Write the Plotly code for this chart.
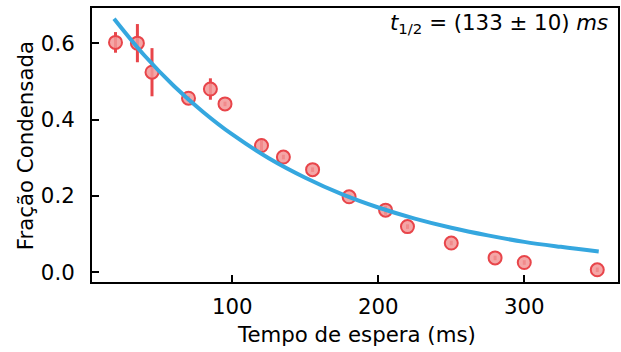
import plotly.graph_objects as go

# Data
tempo = [20, 35, 45, 70, 85, 95, 120, 135, 155, 180, 205, 220, 250, 280, 300, 350]
fracao = [0.602, 0.600, 0.524, 0.456, 0.480, 0.441, 0.332, 0.302, 0.269, 0.198,
          0.163, 0.120, 0.077, 0.038, 0.026, 0.007]
erro = [0.027, 0.050, 0.063, 0.006, 0.028, 0.006, 0.018, 0.006, 0.006, 0.006,
        0.012, 0.006, 0.006, 0.006, 0.006, 0.006]

# Fitted curve
ajuste_x = [19, 40, 60, 80, 100, 125, 150, 175, 200, 225, 250, 275, 300, 325, 351]
ajuste_y = [0.664, 0.567, 0.488, 0.420, 0.361, 0.299, 0.248, 0.205, 0.170, 0.141,
            0.117, 0.097, 0.080, 0.067, 0.055]

x_ticks = [100, 200, 300]
y_ticks = [0.0, 0.2, 0.4, 0.6]
y_ticklabels = ["0.0", "0.2", "0.4", "0.6"]

x_title = "Tempo de espera (ms)"
y_title = "Fração Condensada"
fit_label = "<i>t</i><sub>1/2</sub> = (133 ± 10) <i>ms</i>"

FONT = "DejaVu Sans"
FS = 21.3

fig = go.Figure()
fig.add_trace(go.Scatter(
    x=tempo, y=fracao, mode="markers",
    marker=dict(size=13, color="rgba(242,150,150,0.85)",
                line=dict(color="#e8454a", width=2)),
    error_y=dict(type="data", array=erro, color="#e8454a", thickness=3, width=0),
    showlegend=False,
))
fig.add_trace(go.Scatter(
    x=ajuste_x, y=ajuste_y, mode="lines", line_shape="spline",
    line=dict(color="#35a7df", width=4), showlegend=False,
))

axis_common = dict(
    showgrid=False, zeroline=False, showline=True, linecolor="black", linewidth=2,
    mirror=True, ticks="inside", ticklen=7, tickwidth=2, tickcolor="black",
    tickfont=dict(family=FONT, size=FS, color="black"), automargin=False,
)
fig.update_xaxes(range=[3.9, 364.2], tickvals=x_ticks, ticklabelstandoff=4, **axis_common)
fig.update_yaxes(range=[-0.025, 0.692], tickvals=y_ticks, ticktext=y_ticklabels,
                 ticklabelstandoff=11, **axis_common)

fig.add_annotation(
    xref="paper", yref="paper", x=0.502, y=-0.19, xanchor="center", yanchor="middle",
    text=x_title, showarrow=False, font=dict(family=FONT, size=FS, color="black"),
)
fig.add_annotation(
    xref="paper", yref="paper", x=-0.127, y=0.496, xanchor="center", yanchor="middle",
    text=y_title, textangle=-90, showarrow=False,
    font=dict(family=FONT, size=FS, color="black"),
)
fig.add_annotation(
    xref="paper", yref="paper", x=0.985, y=1.0, xanchor="right", yanchor="top",
    text=fit_label, showarrow=False,
    font=dict(family=FONT, size=FS, color="black"),
)

fig.update_layout(
    width=621, height=352,
    margin=dict(l=92, r=3, t=8, b=70, autoexpand=False),
    paper_bgcolor="white", plot_bgcolor="white",
)
fig.write_html("out.html", config={"displayModeBar": False},
               post_script="document.body.style.margin='0px';")
